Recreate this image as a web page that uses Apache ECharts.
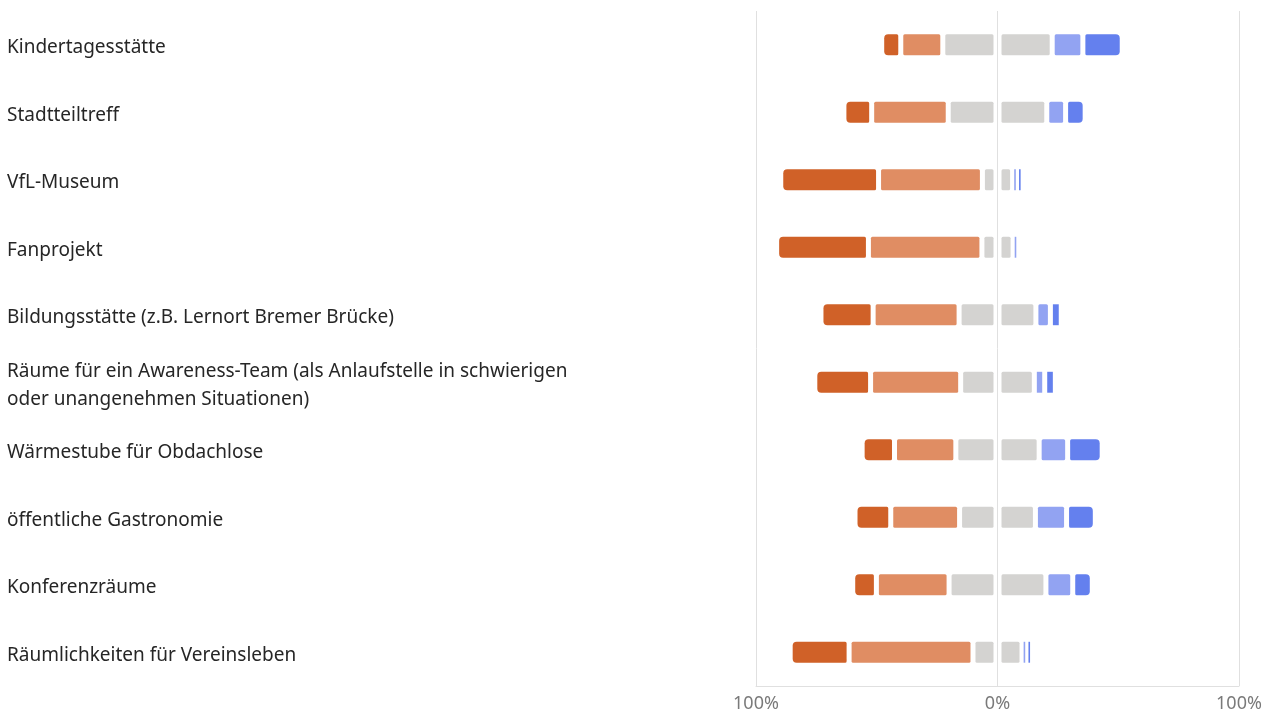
<!DOCTYPE html>
<html>
<head>
<meta charset="utf-8">
<script src="https://cdn.jsdelivr.net/npm/echarts@6/dist/echarts.min.js"></script>
<style>
html,body{margin:0;padding:0;background:#fff;}
#chart{width:1275px;height:713px;}
</style>
</head>
<body>
<div id="chart"></div>
<script>
const categories = [
  'Kindertagesstätte',
  'Stadtteiltreff',
  'VfL-Museum',
  'Fanprojekt',
  'Bildungsstätte (z.B. Lernort Bremer Brücke)',
  'Räume für ein Awareness-Team (als Anlaufstelle in schwierigen\noder unangenehmen Situationen)',
  'Wärmestube für Obdachlose',
  'öffentliche Gastronomie',
  'Konferenzräume',
  'Räumlichkeiten für Vereinsleben'
];
const stronglyNegative = [7.9, 11.5, 40.5, 38.0, 21.6, 23.1, 13.4, 14.8, 9.8, 24.4];
const negative         = [17.4, 31.7, 43.0, 47.0, 35.6, 37.3, 25.4, 28.5, 30.1, 51.3];
const neutral          = [45.3, 40.8, 12.5, 12.9, 31.8, 30.5, 34.5, 31.4, 40.1, 20.3];
const positive         = [12.7, 7.8, 2.0, 2.0, 6.0, 4.3, 11.8, 12.9, 11.1, 2.0];
const stronglyPositive = [16.3, 8.1, 2.0, 0.0, 4.5, 4.4, 14.3, 11.9, 8.1, 2.0];
const xTicks = [-100, 0, 100];

const colors = ['#D06128', '#E08D63', '#D4D3D1', '#D4D3D1', '#92A3F2', '#6480EE'];

const segs = [[], [], [], [], [], []];
categories.forEach((c, i) => {
  const parts = [stronglyNegative[i], negative[i], neutral[i] / 2, neutral[i] / 2, positive[i], stronglyPositive[i]];
  let x = -(stronglyNegative[i] + negative[i] + neutral[i] / 2);
  parts.forEach((v, k) => {
    segs[k].push([x, x + v, i, v]);
    x += v;
  });
});

function makeRender(k) {
  return function (params, api) {
    const v = api.value(3);
    if (!(v > 0)) return null;
    const s = api.coord([api.value(0), api.value(2)]);
    const e = api.coord([api.value(1), api.value(2)]);
    const h = api.size([0, 1])[1] * 0.31;
    const insetL = (k === 3) ? 4 : 2.5;
    const insetR = (k === 2) ? 4 : 2.5;
    let x0 = s[0] + insetL;
    let w = e[0] - s[0] - insetL - insetR;
    if (w < 1.6) {
      const cx = (s[0] + e[0]) / 2;
      w = 1.6;
      x0 = cx - w / 2;
    }
    let r = 1.5;
    if (k === 0) r = [4, 1.5, 1.5, 4];
    if (k === 5) r = [1.5, 4, 4, 1.5];
    r = (w < 6) ? 0 : r;
    return {
      type: 'rect',
      shape: { x: x0, y: s[1] - h / 2, width: w, height: h, r: r },
      style: { fill: colors[k] }
    };
  };
}

const chart = echarts.init(document.getElementById('chart'), null, { renderer: 'canvas' });
chart.setOption({
  animation: false,
  backgroundColor: '#ffffff',
  grid: { left: 756, right: 36, top: 11, bottom: 27, containLabel: false, outerBoundsMode: 'none' },
  xAxis: {
    type: 'value',
    min: xTicks[0], max: xTicks[xTicks.length - 1], interval: 100,
    axisLine: { show: true, lineStyle: { color: '#e0e0e0', width: 1 } },
    axisTick: { show: false },
    splitLine: { show: true, lineStyle: { color: '#e0e0e0', width: 1 } },
    axisLabel: {
      margin: 9,
      color: '#7a7a7a',
      fontSize: 18,
      fontFamily: 'Noto Sans',
      formatter: v => Math.abs(v) + '%'
    }
  },
  yAxis: {
    type: 'category',
    data: categories,
    inverse: true,
    axisLine: { show: false },
    axisTick: { show: false },
    splitLine: { show: false },
    axisLabel: {
      align: 'left',
      margin: 749,
      color: '#262626',
      fontSize: 19,
      fontFamily: 'Noto Sans',
      formatter: v => v.split('\n').map(l => '{t|' + l + '}').join('\n'),
      rich: {
        t: {
          fontSize: 19,
          fontFamily: 'Noto Sans',
          color: '#262626',
          lineHeight: 28,
          padding: [6, 0, 0, 0]
        }
      }
    }
  },
  series: segs.map((d, k) => ({
    type: 'custom',
    renderItem: makeRender(k),
    encode: { x: [0, 1], y: 2 },
    data: d,
    silent: true
  }))
});
</script>
</body>
</html>
